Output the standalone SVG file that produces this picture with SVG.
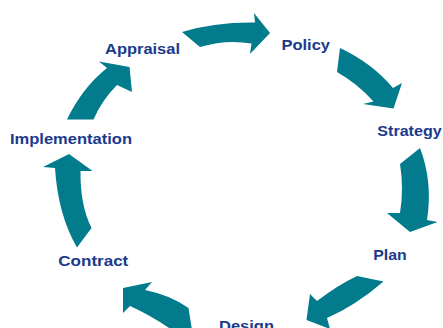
<svg xmlns="http://www.w3.org/2000/svg" width="443" height="328" viewBox="0 0 443 328">
  <style>
    .arrow { fill: #027b8c; stroke: none; }
    .label { font-family: "Liberation Sans", Arial, sans-serif; font-weight: bold; font-size: 14.5px; fill: #1b3a8c; }
  </style>
  <rect x="0" y="0" width="443" height="328" fill="#ffffff"/>

  <!-- curved arrows around the cycle -->
  <g id="connectors">
    <path class="arrow" d="M182,32 Q214,22 255,22.5 L254,13 L270,33 L250,54 L251.5,43.5 Q226,39 200,47 Z"/>
    <path class="arrow" d="M340,48 Q372,63 393,88 L402,83 L393.5,108.5 L363,104 L373.5,101.5 Q358,84 337,72 Z"/>
    <path class="arrow" d="M400,164 L420,148 Q433,182 427,220 L437.5,222 L410,232 L387,213 L400,213 Q404,188 400,164 Z"/>
    <path class="arrow" d="M357,276 L383.5,281.5 Q355,306 327,318 L330,329 L306.5,320 L310,294 L317,301 Q338,285 357,276 Z"/>
    <path class="arrow" d="M145,290 Q170,295 188.5,308 L192,330 L172,330 Q152,316 130,306 L123,313 L123,288 L152,282 Z"/>
    <path class="arrow" d="M77,247.5 Q58,215 55,168 L43,167 L69,154 L92.5,171 L80.5,171 Q80,205 91.5,228 Z"/>
    <path class="arrow" d="M67,119.5 Q82,88 107,68 L99,61.5 L129.5,67 L132,92 L117,85 Q102,100 93.5,119.5 Z"/>
  </g>

  <g id="appraisal"><text class="label" x="105" y="54" textLength="75" lengthAdjust="spacingAndGlyphs">Appraisal</text></g>
  <g id="policy"><text class="label" x="281.5" y="50" textLength="48.5" lengthAdjust="spacingAndGlyphs">Policy</text></g>
  <g id="strategy"><text class="label" x="377.3" y="136" textLength="64.4" lengthAdjust="spacingAndGlyphs">Strategy</text></g>
  <g id="plan"><text class="label" x="373.3" y="259.5" textLength="33.4" lengthAdjust="spacingAndGlyphs">Plan</text></g>
  <g id="design"><text class="label" x="219" y="331" textLength="55" lengthAdjust="spacingAndGlyphs">Design</text></g>
  <g id="contract"><text class="label" x="58.3" y="266" textLength="70" lengthAdjust="spacingAndGlyphs">Contract</text></g>
  <g id="implementation"><text class="label" x="10" y="144" textLength="122" lengthAdjust="spacingAndGlyphs">Implementation</text></g>
</svg>
